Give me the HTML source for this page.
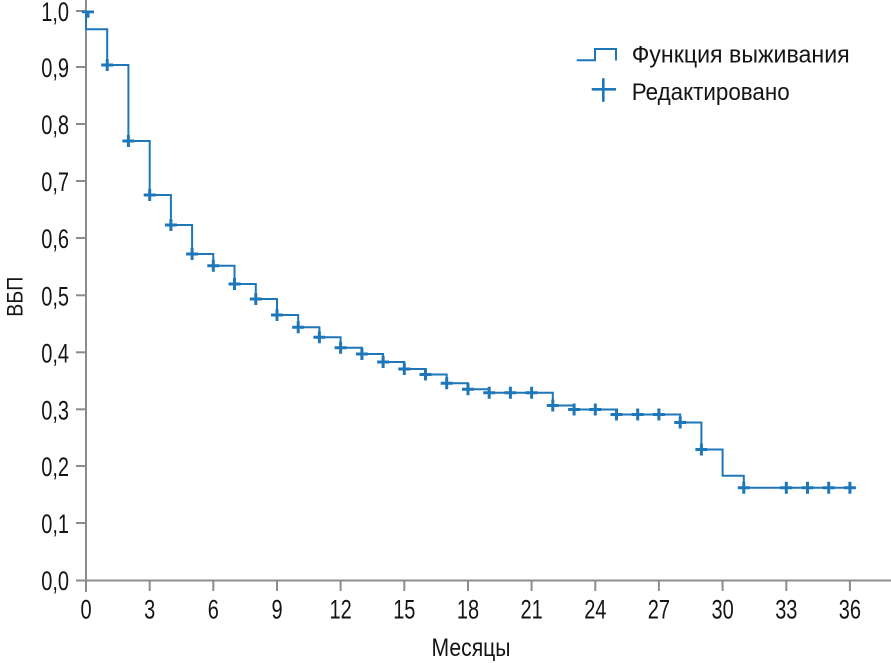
<!DOCTYPE html>
<html><head><meta charset="utf-8"><style>
html,body{margin:0;padding:0;background:#fff;}
svg{display:block;}
text{font-family:"Liberation Sans","Noto Sans CJK SC",sans-serif;fill:#141414;}
</style></head><body>
<svg width="891" height="663" viewBox="0 0 891 663" xmlns="http://www.w3.org/2000/svg">
<defs><clipPath id="top"><rect x="0" y="10.5" width="891" height="660"/></clipPath></defs>
<!-- axes -->
<g stroke="#8c8c8c" stroke-width="2" fill="none">
<line x1="86" y1="0" x2="86" y2="592"/>
<line x1="76" y1="580.5" x2="891" y2="580.5"/>
<line x1="76" y1="11" x2="86" y2="11"/>
<line x1="76" y1="67" x2="86" y2="67"/>
<line x1="76" y1="124" x2="86" y2="124"/>
<line x1="76" y1="181" x2="86" y2="181"/>
<line x1="76" y1="238" x2="86" y2="238"/>
<line x1="76" y1="295.3" x2="86" y2="295.3"/>
<line x1="76" y1="352.3" x2="86" y2="352.3"/>
<line x1="76" y1="409.3" x2="86" y2="409.3"/>
<line x1="76" y1="466" x2="86" y2="466"/>
<line x1="76" y1="523" x2="86" y2="523"/>
<line x1="149.7" y1="580" x2="149.7" y2="591"/>
<line x1="213.3" y1="580" x2="213.3" y2="591"/>
<line x1="277" y1="580" x2="277" y2="591"/>
<line x1="340.6" y1="580" x2="340.6" y2="591"/>
<line x1="404.3" y1="580" x2="404.3" y2="591"/>
<line x1="468" y1="580" x2="468" y2="591"/>
<line x1="531.6" y1="580" x2="531.6" y2="591"/>
<line x1="595.3" y1="580" x2="595.3" y2="591"/>
<line x1="658.9" y1="580" x2="658.9" y2="591"/>
<line x1="722.6" y1="580" x2="722.6" y2="591"/>
<line x1="786.3" y1="580" x2="786.3" y2="591"/>
<line x1="849.9" y1="580" x2="849.9" y2="591"/>
</g>
<!-- y labels -->
<g font-size="27" text-anchor="end">
<text transform="translate(69,21) scale(0.74,1)">1,0</text>
<text transform="translate(69,77) scale(0.74,1)">0,9</text>
<text transform="translate(69,134) scale(0.74,1)">0,8</text>
<text transform="translate(69,191) scale(0.74,1)">0,7</text>
<text transform="translate(69,248) scale(0.74,1)">0,6</text>
<text transform="translate(69,305.3) scale(0.74,1)">0,5</text>
<text transform="translate(69,362.3) scale(0.74,1)">0,4</text>
<text transform="translate(69,419.3) scale(0.74,1)">0,3</text>
<text transform="translate(69,476) scale(0.74,1)">0,2</text>
<text transform="translate(69,533) scale(0.74,1)">0,1</text>
<text transform="translate(69,590) scale(0.74,1)">0,0</text>
</g>
<!-- x labels -->
<g font-size="27" text-anchor="middle">
<text transform="translate(86,618.5) scale(0.74,1)">0</text>
<text transform="translate(149.7,618.5) scale(0.74,1)">3</text>
<text transform="translate(213.3,618.5) scale(0.74,1)">6</text>
<text transform="translate(277,618.5) scale(0.74,1)">9</text>
<text transform="translate(340.6,618.5) scale(0.74,1)">12</text>
<text transform="translate(404.3,618.5) scale(0.74,1)">15</text>
<text transform="translate(468,618.5) scale(0.74,1)">18</text>
<text transform="translate(531.6,618.5) scale(0.74,1)">21</text>
<text transform="translate(595.3,618.5) scale(0.74,1)">24</text>
<text transform="translate(658.9,618.5) scale(0.74,1)">27</text>
<text transform="translate(722.6,618.5) scale(0.74,1)">30</text>
<text transform="translate(786.3,618.5) scale(0.74,1)">33</text>
<text transform="translate(849.9,618.5) scale(0.74,1)">36</text>
</g>
<!-- axis titles -->
<text x="431.5" y="656" font-size="25" textLength="79" lengthAdjust="spacingAndGlyphs">Месяцы</text>
<text transform="translate(22.5,296.7) rotate(-90)" font-size="22" text-anchor="middle" textLength="40" lengthAdjust="spacingAndGlyphs">ВБП</text>
<!-- curve -->
<path fill="none" stroke="#1e77b8" stroke-width="2" d="M86,11.7 V29.3 H107.2 V65 H128.4 V141 H149.7 V195 H170.9 V225 H192.1 V254 H213.3 V265.7 H234.5 V284 H255.8 V299 H277 V315 H298.2 V327.3 H319.4 V337.3 H340.6 V347.7 H361.9 V354 H383.1 V362 H404.3 V369 H425.5 V374.5 H446.7 V383.3 H468 V389.3 H489.2 V392.7 H552.8 V405.5 H574.1 V409.5 H616.5 V414.5 H680.2 V422.5 H701.4 V449.5 H722.6 V475.7 H743.8 V487.7 H853"/>
<!-- censor marks -->
<g stroke="#1e77b8" stroke-width="3" fill="none">
<path clip-path="url(#top)" d="M82,11.7h12M88,5.7v12"/>
<path d="M101.2,65h12M107.2,59v12
M122.4,141h12M128.4,135v12
M143.7,195h12M149.7,189v12
M164.9,225h12M170.9,219v12
M186.1,254h12M192.1,248v12
M207.3,265.7h12M213.3,259.7v12
M228.5,284h12M234.5,278v12
M249.8,299h12M255.8,293v12
M271,315h12M277,309v12
M292.2,327.3h12M298.2,321.3v12
M313.4,337.3h12M319.4,331.3v12
M334.6,347.7h12M340.6,341.7v12
M355.9,354h12M361.9,348v12
M377.1,362h12M383.1,356v12
M398.3,369h12M404.3,363v12
M419.5,374.5h12M425.5,368.5v12
M440.7,383.3h12M446.7,377.3v12
M462,389.3h12M468,383.3v12
M483.2,392.7h12M489.2,386.7v12
M504.4,392.7h12M510.4,386.7v12
M525.6,392.7h12M531.6,386.7v12
M546.8,405.5h12M552.8,399.5v12
M568.1,409.5h12M574.1,403.5v12
M589.3,409.5h12M595.3,403.5v12
M610.5,414.5h12M616.5,408.5v12
M631.7,414.5h12M637.7,408.5v12
M652.9,414.5h12M658.9,408.5v12
M674.2,422.5h12M680.2,416.5v12
M695.4,449.5h12M701.4,443.5v12
M737.8,487.7h12M743.8,481.7v12
M780.3,487.7h12M786.3,481.7v12
M801.5,487.7h12M807.5,481.7v12
M822.7,487.7h12M828.7,481.7v12
M843.9,487.7h12M849.9,481.7v12"/>
</g>
<!-- legend -->
<path fill="none" stroke="#1e77b8" stroke-width="2" d="M576.7,60.3 H595 V49 H616 V60.5"/>
<path fill="none" stroke="#1e77b8" stroke-width="2.6" d="M591.7,89.3 H616 M603.3,78.3 V101.7"/>
<text x="631.7" y="62.7" font-size="24.5" textLength="218" lengthAdjust="spacingAndGlyphs">Функция выживания</text>
<text x="631.7" y="100" font-size="24.5" textLength="158" lengthAdjust="spacingAndGlyphs">Редактировано</text>
</svg>
</body></html>
